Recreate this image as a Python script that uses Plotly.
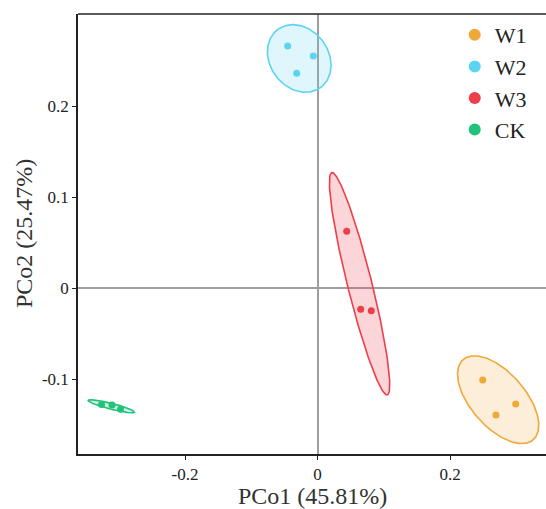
import numpy as np
import plotly.graph_objects as go

# PCoA sample scores per group
groups = ["W1", "W2", "W3", "CK"]
pco1 = {
    "W1": [0.2494, 0.2992, 0.2694],
    "W2": [-0.0450, -0.0063, -0.0314],
    "W3": [0.0441, 0.0652, 0.0812],
    "CK": [-0.3260, -0.3102, -0.2974],
}
pco2 = {
    "W1": [-0.1011, -0.1275, -0.1396],
    "W2": [0.2659, 0.2549, 0.2359],
    "W3": [0.0623, -0.0234, -0.0249],
    "CK": [-0.1280, -0.1286, -0.1333],
}
x_label = "PCo1 (45.81%)"
y_label = "PCo2 (25.47%)"
x_ticks = [-0.2, 0, 0.2]
y_ticks = [-0.1, 0, 0.1, 0.2]

colors = {"W1": "#EFA83A", "W2": "#5DD3F3", "W3": "#EE3E4A", "CK": "#21C27A"}
fills = {
    "W1": "rgba(239,168,58,0.20)",
    "W2": "rgba(93,211,243,0.20)",
    "W3": "rgba(238,62,74,0.22)",
    "CK": "rgba(33,194,122,0.22)",
}

CHI2_95_DF2 = 5.991


def confidence_ellipse(xs, ys, n=200):
    """95% normal confidence ellipse from the sample covariance."""
    pts = np.column_stack([xs, ys])
    mu = pts.mean(axis=0)
    cov = np.cov(pts, rowvar=False)
    vals, vecs = np.linalg.eigh(cov)
    vals = np.clip(vals, 0, None)
    t = np.linspace(0, 2 * np.pi, n)
    circle = np.vstack([np.cos(t), np.sin(t)])
    ell = vecs @ (np.sqrt(vals * CHI2_95_DF2)[:, None] * circle)
    return ell[0] + mu[0], ell[1] + mu[1]


fig = go.Figure()

# ellipses underneath
for g in groups:
    ex, ey = confidence_ellipse(pco1[g], pco2[g])
    fig.add_trace(go.Scatter(
        x=ex, y=ey, mode="lines", fill="toself",
        line=dict(color=colors[g], width=1.6),
        fillcolor=fills[g], showlegend=False, hoverinfo="skip",
    ))

# sample points
for g in groups:
    fig.add_trace(go.Scatter(
        x=pco1[g], y=pco2[g], mode="markers",
        marker=dict(color=colors[g], size=7),
        name=g, showlegend=False,
    ))

# legend entries with larger symbols
for g in groups:
    fig.add_trace(go.Scatter(
        x=[None], y=[None], mode="markers",
        marker=dict(color=colors[g], size=12),
        name=g, showlegend=True,
    ))

font_family = "Liberation Serif, Times New Roman, serif"
title_font = dict(size=24, family=font_family, color="#333333")

fig.update_layout(
    width=546, height=509,
    margin=dict(l=78, r=0, t=14, b=55),
    plot_bgcolor="white", paper_bgcolor="white",
    font=dict(family=font_family, color="#222222"),
    legend=dict(
        x=0.805, y=1.0, xanchor="left", yanchor="top",
        font=dict(size=22, family=font_family, color="#222222"),
        bgcolor="rgba(0,0,0,0)", tracegroupgap=0, itemwidth=30,
    ),
    shapes=[dict(type="line", xref="paper", yref="paper",
                 x0=0, x1=1, y0=1, y1=1,
                 line=dict(color="#222222", width=1.6))],
    annotations=[
        dict(text=x_label, xref="paper", yref="paper", x=0.5, y=0,
             xanchor="center", yanchor="middle", yshift=-42,
             showarrow=False, font=title_font),
        dict(text=y_label, xref="paper", yref="paper", x=0, y=0.5,
             xanchor="center", yanchor="middle", xshift=-54, textangle=-90,
             showarrow=False, font=title_font),
    ],
)

fig.update_xaxes(
    range=[-0.3615, 0.3449], tickvals=x_ticks, ticktext=["-0.2", "0", "0.2"],
    showgrid=False, zeroline=True, zerolinecolor="#9E9E9E", zerolinewidth=1.6,
    showline=True, linecolor="#222222", linewidth=1.6,
    ticks="outside", ticklen=4, tickwidth=1.4, tickcolor="#222222",
    tickfont=dict(size=17, family=font_family, color="#222222"),
)
fig.update_yaxes(
    range=[-0.1824, 0.3011], tickvals=y_ticks, ticktext=["-0.1", "0", "0.1", "0.2"],
    showgrid=False, zeroline=True, zerolinecolor="#9E9E9E", zerolinewidth=1.6,
    showline=True, linecolor="#222222", linewidth=1.6,
    ticks="outside", ticklen=4, tickwidth=1.4, tickcolor="#222222",
    tickfont=dict(size=17, family=font_family, color="#222222"),
)

fig.write_html("out.html")
